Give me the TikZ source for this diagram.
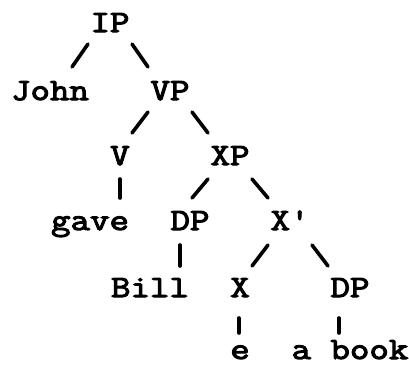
\documentclass[tikz,border=0pt]{standalone}
\usepackage{fontspec}
\newfontfamily\treefont{Latin Modern Mono}[FakeBold=3.5,FakeStretch=1.22,Ligatures=TeXOff]
\begin{document}
\begin{tikzpicture}[x=1pt,y=-1pt,
  lbl/.style={anchor=base,inner sep=0pt,font=\treefont\fontsize{31}{37}\selectfont},
  edge/.style={line width=3.6pt,line cap=round}]
\useasboundingbox (0,0) rectangle (409,364);
\node[lbl] (IP)    at (110,32)  {IP};
\node[lbl] (John)  at (50,100)  {John};
\node[lbl] (VP)    at (170,100) {VP};
\node[lbl] (V)     at (120,165) {V};
\node[lbl] (XP)    at (230,165) {XP};
\node[lbl] (gave)  at (90,230)  {gave};
\node[lbl] (DPa)   at (190,230) {DP};
\node[lbl] (Xbar)  at (290,230) {X'};
\node[lbl] (Bill)  at (150,297) {Bill};
\node[lbl] (X)     at (240,297) {X};
\node[lbl] (DPb)   at (350,297) {DP};
\node[lbl] (e)     at (240,359) {e};
\node[lbl] (abook) at (350,359) {a book};
\draw[edge] ([shift={(-22,12)}]IP.base) -- ([shift={(22,-33)}]John.base);
\draw[edge] ([shift={(22,12)}]IP.base) -- ([shift={(-22,-33)}]VP.base);
\draw[edge] ([shift={(-22,12)}]VP.base) -- ([shift={(12,-32)}]V.base);
\draw[edge] ([shift={(22,12)}]VP.base) -- ([shift={(-22,-32)}]XP.base);
\draw[edge] ([shift={(0,14)}]V.base) -- ([shift={(30,-32)}]gave.base);
\draw[edge] ([shift={(-22,14)}]XP.base) -- ([shift={(2,-32)}]DPa.base);
\draw[edge] ([shift={(22,14)}]XP.base) -- ([shift={(-22,-32)}]Xbar.base);
\draw[edge] ([shift={(-10,15)}]DPa.base) -- ([shift={(30,-31)}]Bill.base);
\draw[edge] ([shift={(-22,15)}]Xbar.base) -- ([shift={(12,-31)}]X.base);
\draw[edge] ([shift={(22,15)}]Xbar.base) -- ([shift={(-22,-31)}]DPb.base);
\draw[edge] ([shift={(-1,21)}]X.base) -- ([shift={(-1,-26)}]e.base);
\draw[edge] ([shift={(-11,21)}]DPb.base) -- ([shift={(-11,-26)}]abook.base);
\end{tikzpicture}
\end{document}
